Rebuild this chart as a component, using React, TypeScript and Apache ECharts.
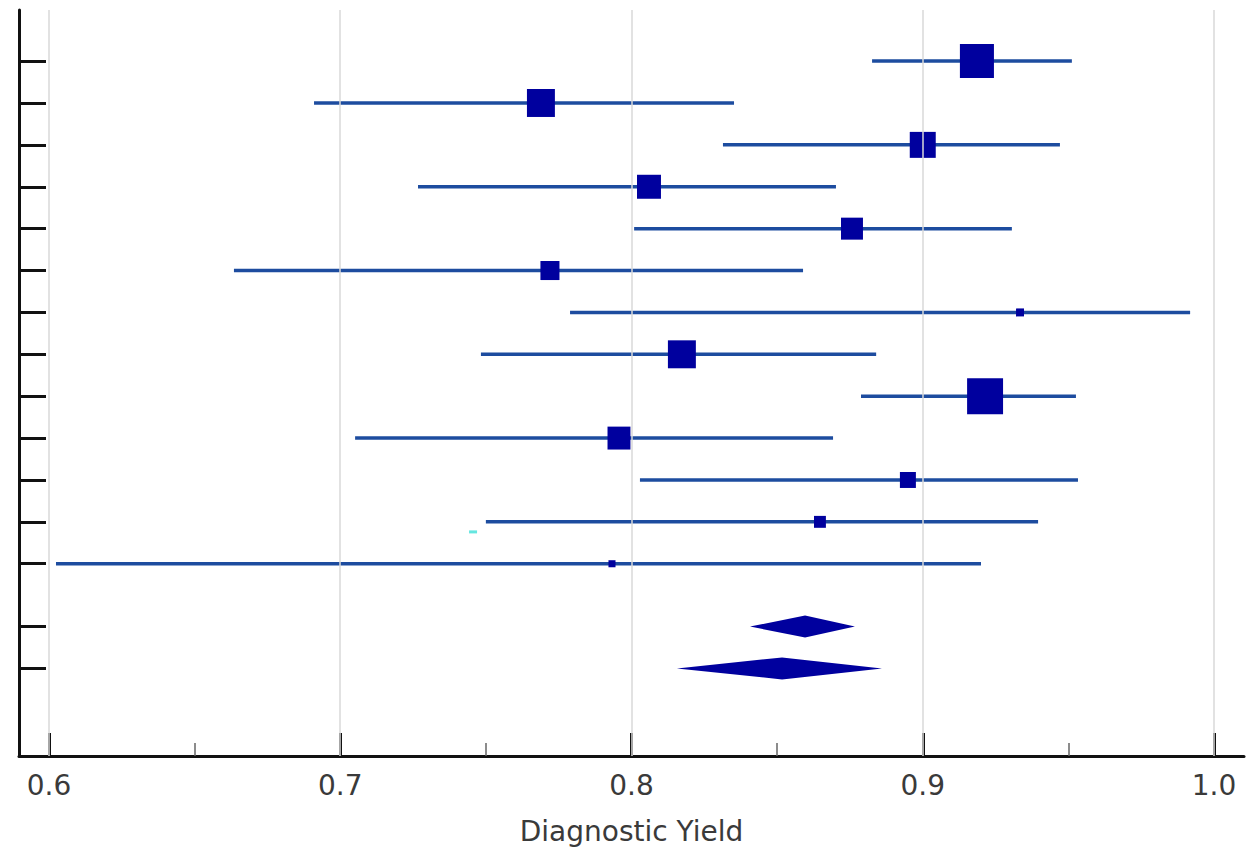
import React, { useEffect, useRef } from "react";
import * as echarts from "echarts";

// Study rows (top to bottom)
const studyLower = [0.8826, 0.691, 0.8314, 0.7267, 0.8009, 0.6635, 0.7789, 0.7483, 0.8788, 0.7051, 0.8029, 0.75, 0.6024];
const studyEstimate = [0.9186, 0.7689, 0.9, 0.806, 0.8757, 0.772, 0.9334, 0.8173, 0.9214, 0.7957, 0.8949, 0.8647, 0.7933];
const studyUpper = [0.9512, 0.8352, 0.9471, 0.8702, 0.9306, 0.8589, 0.9918, 0.884, 0.9526, 0.8692, 0.9533, 0.9396, 0.92];
const studyWeight = [16.3, 11.0, 9.5, 8.1, 6.8, 5.1, 0.9, 11.0, 18.2, 7.4, 3.6, 2.0, 0.7];

// Pooled estimates (diamonds)
const pooledRow = [13.5, 14.5];
const pooledLower = [0.8407, 0.8156];
const pooledEstimate = [0.8596, 0.8517];
const pooledUpper = [0.8767, 0.886];

// Stray marker seen in the figure
const strayMark = [[0.7456, 11.24]];

const xTicks = [0.6, 0.7, 0.8, 0.9, 1.0];
const xMinorTicks = [0.65, 0.75, 0.85, 0.95];
const yTicks = [0, 1, 2, 3, 4, 5, 6, 7, 8, 9, 10, 11, 12, 13.5, 14.5];

const X_MIN = 0.5897;
const X_MAX = 1.0103;
const FONT = "DejaVu Sans, Liberation Sans, sans-serif";

export default function App() {
  const ref = useRef<HTMLDivElement>(null);
  useEffect(() => {
    if (!ref.current) return;
    const chart = echarts.init(ref.current, null, { renderer: "svg" });
    const studyData = studyEstimate.map((e, i) => [i, studyLower[i], e, studyUpper[i], studyWeight[i]]);
    const pooledData = pooledEstimate.map((e, i) => [pooledRow[i], pooledLower[i], e, pooledUpper[i]]);
    const lineColor = "#1D4C9F";
    const boxColor = "#00009E";
    chart.setOption({
      animation: false,
      backgroundColor: "#ffffff",
      grid: { left: 19, right: 10, top: 10, bottom: 101, containLabel: false },
      xAxis: [
        {
          type: "value",
          min: X_MIN,
          max: X_MAX,
          name: "Diagnostic Yield",
          nameLocation: "middle",
          nameGap: 61,
          nameTextStyle: { fontSize: 28, color: "#3a3a3a", fontFamily: FONT },
          axisLine: { show: true, onZero: false, lineStyle: { color: "#111", width: 3 } },
          axisTick: { show: true, inside: true, length: 23, customValues: xTicks, lineStyle: { color: "#111", width: 3 } },
          axisLabel: {
            show: true,
            customValues: xTicks,
            margin: 15,
            fontSize: 28,
            color: "#3a3a3a",
            fontFamily: FONT,
            formatter: (v: number) => v.toFixed(1),
          },
          splitLine: { show: false },
        },
        {
          type: "value",
          min: X_MIN,
          max: X_MAX,
          position: "bottom",
          axisLine: { show: false, onZero: false },
          axisTick: { show: true, inside: true, length: 13, customValues: xMinorTicks, lineStyle: { color: "#666", width: 1.5 } },
          axisLabel: { show: false },
          splitLine: { show: false },
        },
      ],
      yAxis: {
        type: "value",
        inverse: true,
        min: -1.22,
        max: 16.59,
        axisLine: { show: true, onZero: false, lineStyle: { color: "#111", width: 3 } },
        axisTick: { show: true, inside: true, length: 27, customValues: yTicks, lineStyle: { color: "#111", width: 3 } },
        axisLabel: { show: false },
        splitLine: { show: false },
      },
      series: [
        {
          type: "line",
          data: [],
          silent: true,
          markLine: {
            silent: true,
            symbol: "none",
            label: { show: false },
            lineStyle: { color: "#d9d9d9", width: 1.5, type: "solid" },
            data: xTicks.map((v) => ({ xAxis: v })),
          },
        },
        {
          type: "custom",
          data: studyData,
          encode: { x: [1, 2, 3], y: 0 },
          renderItem: (params: any, api: any) => {
            const row = api.value(0);
            const lo = api.coord([api.value(1), row]);
            const est = api.coord([api.value(2), row]);
            const hi = api.coord([api.value(3), row]);
            const size = 8.43 * Math.sqrt(api.value(4));
            return {
              type: "group",
              children: [
                {
                  type: "line",
                  shape: { x1: lo[0], y1: lo[1], x2: hi[0], y2: hi[1] },
                  style: { stroke: lineColor, lineWidth: 3.5 },
                },
                {
                  type: "rect",
                  shape: { x: est[0] - size / 2, y: est[1] - size / 2, width: size, height: size },
                  style: { fill: boxColor },
                },
              ],
            };
          },
        },
        {
          type: "custom",
          data: pooledData,
          encode: { x: [1, 2, 3], y: 0 },
          renderItem: (params: any, api: any) => {
            const row = api.value(0);
            const lo = api.coord([api.value(1), row]);
            const est = api.coord([api.value(2), row]);
            const hi = api.coord([api.value(3), row]);
            const h = 11;
            return {
              type: "polygon",
              shape: {
                points: [
                  [lo[0], lo[1]],
                  [est[0], est[1] - h],
                  [hi[0], hi[1]],
                  [est[0], est[1] + h],
                ],
              },
              style: { fill: "#00009E" },
            };
          },
        },
        {
          type: "scatter",
          data: strayMark,
          symbol: "rect",
          symbolSize: [8, 3],
          itemStyle: { color: "#3FE0D8" },
          silent: true,
        },
      ],
    });
    return () => chart.dispose();
  }, []);
  return (
    <div
      ref={ref}
      style={{ position: "absolute", left: 0, top: 0, width: 1254, height: 857, background: "#fff" }}
    />
  );
}
